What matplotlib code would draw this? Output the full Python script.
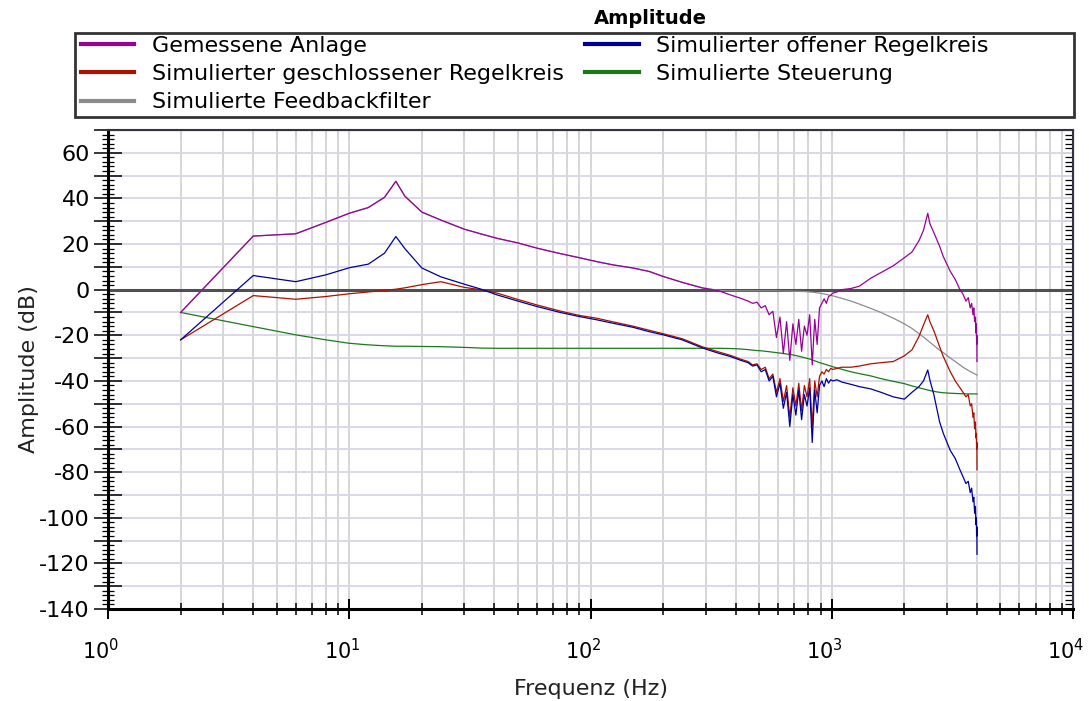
import numpy as np
import matplotlib
matplotlib.use("Agg")
import matplotlib.pyplot as plt
from matplotlib.lines import Line2D
from matplotlib.patches import Rectangle
from matplotlib.transforms import ScaledTranslation
from matplotlib.ticker import MultipleLocator, LogLocator, FuncFormatter, NullFormatter

# ── Data (dB over Hz) ─────────────────────────────────────────────────────────

FREQ_HZ = [
    2, 4, 6, 8, 10, 12, 14, 15.6, 17, 20,
    24, 30, 35, 41, 50, 60, 75, 90, 106, 125,
    150, 175, 200, 240, 290, 340, 380, 420, 450, 470,
    490, 510, 530, 550, 570, 590, 610, 630, 650, 670,
    690, 710, 730, 750, 770, 790, 810, 830, 850, 870,
    890, 910, 930, 950, 970, 990, 1010, 1050, 1100, 1200,
    1300, 1450, 1600, 1800, 2000, 2150, 2300, 2400, 2500, 2550,
    2650, 2800, 2900, 3100, 3250, 3400, 3500, 3600, 3680, 3750,
    3800, 3850, 3880, 3910, 3940, 3960, 3975, 3985, 3995, 4000,
]

GEMESSEN = [
    -10, 23.5, 24.5, 29.5, 33.5, 36, 40.5, 47.5, 41, 34,
    30.5, 26.5, 24.5, 22.5, 20.5, 18.2, 15.8, 14, 12.3, 10.8,
    9.5, 8, 5.8, 3.2, 0.8, -0.5, -2.3, -3.8, -5, -6,
    -5.5, -8, -7, -11, -9.5, -21, -12, -28, -14, -31,
    -15, -24, -13, -27, -16, -20, -11, -33, -13, -24,
    -8, -6, -4, -6, -3, -2.5, -1.5, -1, 0, 0.5,
    1.5, 5, 7.5, 10.5, 14, 16.5, 21.5, 26, 33.5, 29,
    25, 19, 14.5, 8, 4.5, 0, -2, -5, -3.5, -8,
    -6, -11, -8, -14, -12, -19, -15, -24, -20, -31.5,
]

OFFEN = [
    -22, 6.2, 3.5, 6.5, 9.6, 11.2, 16, 23.3, 18, 9.5,
    5.6, 2.4, 0.3, -2.3, -5, -7.4, -10, -11.8, -13.2, -14.8,
    -16.5, -18.4, -19.8, -22, -25.5, -27.9, -29.3, -31, -32, -33.5,
    -33, -36, -35, -40, -38, -47, -41, -52, -45, -60,
    -46, -55, -44, -57, -46, -51, -43, -67, -44, -54,
    -42, -40, -42.5, -39, -41, -39.5, -40, -39.5, -40.5, -41.5,
    -42.5, -43.5, -45, -47, -48, -45, -42.5, -40, -35.2, -39.5,
    -46, -58, -63, -70.5, -74, -79, -82, -85, -84, -89,
    -87, -93, -91, -98, -95, -103, -100, -108, -104, -116,
]

GESCHLOSSEN = [
    -22, -2.6, -4.2, -3, -1.8, -1, -0.3, 0.2, 0.8, 2.2,
    3.5, 1, 0, -1.5, -4.3, -6.7, -9.4, -11.3, -12.5, -14.2,
    -16, -17.8, -19.3, -21.5, -25, -27.3, -28.8, -30.5, -31.5, -33,
    -32.5, -35, -34, -39, -37, -45, -39, -49, -42, -56,
    -43, -51, -41, -53, -42, -47, -39, -60, -40, -47,
    -38, -36, -37, -35, -36, -34.5, -35, -34.5, -34, -34,
    -33.5, -32.5, -32, -31.5, -29, -26.4, -20.5, -15.5, -11, -14,
    -18, -25, -29.3, -36, -40, -43, -45, -47, -46, -51,
    -50, -56, -54, -61, -58, -65, -63, -70, -67, -79,
]

STEUERUNG = [
    -10, -16.2, -19.8, -22, -23.5, -24.2, -24.6, -24.8, -24.8, -24.9,
    -25, -25.3, -25.6, -25.7, -25.7, -25.7, -25.7, -25.7, -25.7, -25.7,
    -25.7, -25.7, -25.7, -25.7, -25.7, -25.7, -25.8, -26, -26.3, -26.5,
    -26.7, -26.8, -27, -27.2, -27.4, -27.6, -27.8, -28, -28.2, -28.4,
    -28.6, -28.9, -29.2, -29.5, -29.8, -30.1, -30.4, -30.8, -31.2, -31.6,
    -32, -32.3, -32.6, -32.9, -33.2, -33.5, -33.8, -34.3, -34.9, -36,
    -36.8, -37.8, -39, -40.2, -41.2, -42.2, -43, -43.5, -44, -44.2,
    -44.6, -45, -45.2, -45.4, -45.5, -45.6, -45.6, -45.7, -45.7, -45.7,
    -45.7, -45.7, -45.7, -45.7, -45.7, -45.7, -45.7, -45.7, -45.7, -45.7,
]

FEEDBACKFILTER = [
    -10, 23.5, 24.5, 29.5, 33.5, 36, 40.5, 47.5, 41, 34,
    30.5, 26.5, 24.5, 22.5, 20.5, 18.2, 15.8, 14, 12.3, 10.8,
    9.5, 8, 5.8, 3.2, 0.8, -0.3, -0.5, -0.5, -0.5, -0.5,
    -0.5, -0.5, -0.5, -0.5, -0.5, -0.5, -0.6, -0.6, -0.6, -0.6,
    -0.7, -0.7, -0.7, -0.8, -0.8, -0.9, -1.0, -1.1, -1.2, -1.4,
    -1.5, -1.7, -1.9, -2.1, -2.3, -2.5, -2.7, -3.2, -3.8, -5,
    -6.3, -8.2, -10, -12.5, -15, -17, -19.3, -20.8, -22.3, -23,
    -24.5, -26.5, -27.6, -30, -31.5, -33, -34, -34.8, -35.4, -35.9,
    -36.2, -36.5, -36.7, -36.9, -37.1, -37.2, -37.3, -37.3, -37.4, -37.4,
]

LABELS = [
    "Gemessene Anlage",
    "Simulierter geschlossener Regelkreis",
    "Simulierte Feedbackfilter",
    "Simulierter offener Regelkreis",
    "Simulierte Steuerung",
]

# ── Style ──────────────────────────────────────────────────────────────────────

C_PURPLE = "#990099"
C_RED    = "#aa1100"
C_GRAY   = "#8c8c8c"
C_NAVY   = "#000099"
C_GREEN  = "#1a7a1a"

FS = 16
plt.rcParams["font.family"] = ["DejaVu Sans"]
plt.rcParams["font.size"] = FS

W, H = 1089, 701
fig = plt.figure(figsize=(W / 100, H / 100), dpi=100)
ax = fig.add_axes([108 / W, 1 - 609 / H, (1073 - 108) / W, (609 - 130) / H])

series = [
    (FEEDBACKFILTER, C_GRAY),
    (STEUERUNG,      C_GREEN),
    (GESCHLOSSEN,    C_RED),
    (OFFEN,          C_NAVY),
    (GEMESSEN,       C_PURPLE),
]
for vals, col in series:
    assert len(vals) == len(FREQ_HZ)
    ax.plot(FREQ_HZ, vals, color=col, lw=0.9, zorder=3)

ax.axhline(0, color="#505050", lw=2.2, zorder=2)

# ── Axes ───────────────────────────────────────────────────────────────────────

ax.set_xscale("log")
ax.set_xlim(1, 1e4)
ax.set_ylim(-140, 70)
ax.set_axisbelow(True)

ax.xaxis.set_major_locator(LogLocator(base=10, numticks=10))
ax.xaxis.set_minor_locator(LogLocator(base=10, subs=np.arange(2, 10), numticks=20))
ax.xaxis.set_minor_formatter(NullFormatter())
ax.yaxis.set_major_locator(MultipleLocator(10))
ax.yaxis.set_minor_locator(MultipleLocator(2))
ax.yaxis.set_major_formatter(
    FuncFormatter(lambda v, p: f"{v:.0f}" if round(v) % 20 == 0 else ""))

ax.grid(True, which="major", axis="y", color="#d8d8ea", lw=1.4)
ax.grid(True, which="both", axis="x", color="#d6d6d6", lw=1.4)

ax.tick_params(axis="y", which="major", direction="inout", length=20, width=1.1, pad=3)
ax.tick_params(axis="y", which="minor", direction="inout", length=8, width=0.9)
ax.tick_params(axis="x", which="major", direction="inout", length=14, width=1.4, pad=14)
ax.tick_params(axis="x", which="minor", direction="inout", length=8, width=1.1)
ax.tick_params(axis="y", labelsize=FS)
ax.tick_params(axis="x", labelsize=15)

# tick labels on the x axis sit a little left of their ticks in the reference
shift = ScaledTranslation(-5 / 72, 0, fig.dpi_scale_trans)
for lab in ax.get_xticklabels():
    lab.set_transform(lab.get_transform() + shift)

for side in ("left", "bottom"):
    ax.spines[side].set_linewidth(2.2)
for side in ("top", "right"):
    ax.spines[side].set_linewidth(1.5)
    ax.spines[side].set_color("#333344")

sec_r = ax.secondary_yaxis("right")
sec_r.yaxis.set_major_locator(MultipleLocator(10))
sec_r.yaxis.set_minor_locator(MultipleLocator(2))
sec_r.tick_params(which="major", direction="in", length=8, width=1.1, labelright=False)
sec_r.tick_params(which="minor", direction="in", length=6, width=0.9)

sec_t = ax.secondary_xaxis("top")
sec_t.xaxis.set_major_locator(LogLocator(base=10, numticks=10))
sec_t.xaxis.set_minor_locator(LogLocator(base=10, subs=np.arange(2, 10), numticks=20))
sec_t.xaxis.set_minor_formatter(NullFormatter())
sec_t.tick_params(which="both", direction="in", length=6, width=1.1, labeltop=False)

ax.set_xlabel("Frequenz (Hz)", fontsize=FS, color="#222222", labelpad=11)
ax.set_ylabel("Amplitude (dB)", fontsize=FS, color="#222222", labelpad=0)

# ── Legend with its own box ────────────────────────────────────────────────────

fig.text(650 / W, 1 - 18 / H, "Amplitude", ha="center", va="center",
         fontsize=14, fontweight="bold")

fig.patches.append(Rectangle((75 / W, 1 - 117 / H), (1074 - 75) / W, (117 - 33) / H,
                             transform=fig.transFigure, fill=False,
                             edgecolor="#333333", lw=2))

handle_cols = [C_PURPLE, C_RED, C_GRAY, C_NAVY, C_GREEN]
handles = [Line2D([], [], color=c, lw=3) for c in handle_cols]
fig.legend(handles, LABELS, ncol=2, loc="upper left",
           bbox_to_anchor=(81 / W, 1 - 36 / H), frameon=False,
           fontsize=FS, handlelength=2.4, handletextpad=0.8,
           columnspacing=0.95, labelspacing=0.37, borderpad=0, borderaxespad=0)

fig.savefig("out.png", dpi=100)
